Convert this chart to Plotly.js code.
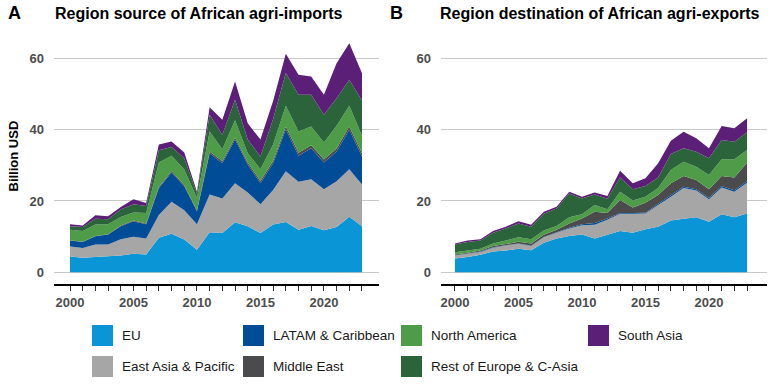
<!DOCTYPE html>
<html>
<head>
<meta charset="utf-8">
<script src="https://cdn.plot.ly/plotly-3.0.1.min.js"></script>
<style>html,body{margin:0;padding:0;background:#fff;}#chart{width:768px;height:385px;}</style>
</head>
<body>
<div id="chart"></div>
<script>
// ---- data (Billion USD) ----
const years = [2000,2001,2002,2003,2004,2005,2006,2007,2008,2009,2010,2011,2012,2013,2014,2015,2016,2017,2018,2019,2020,2021,2022,2023];
const seriesNames = ["EU","East Asia & Pacific","LATAM & Caribbean","Middle East","North America","Rest of Europe & C-Asia","South Asia"];
const seriesColors = ["#0A96D6","#A6A6A6","#004C97","#4B4B4D","#4E9C47","#2B643B","#5B1F77"];

// Panel A: imports by source region
const importsEU    = [4.4,4.1,4.3,4.5,4.7,5.2,5.0,9.7,10.8,9.2,6.3,11.2,11.0,14.0,12.9,11.0,13.4,14.1,11.9,13.0,11.8,12.7,15.6,12.9];
const importsEAP   = [2.8,2.7,3.5,3.3,4.6,4.8,4.5,6.4,9.0,8.2,7.2,10.6,9.7,11.0,9.5,8.1,9.7,14.2,13.5,13.1,11.5,12.8,13.3,11.7];
const importsLATAM = [1.7,1.7,2.3,2.8,3.6,4.3,4.0,7.5,8.2,6.7,3.6,11.6,9.9,12.2,7.8,5.9,7.5,11.8,7.3,8.7,7.5,8.4,11.1,7.9];
const importsME    = [0.1,0.1,0.1,0.1,0.2,0.2,0.2,0.3,0.4,0.4,0.3,0.5,0.5,0.6,0.6,0.6,0.7,0.8,0.8,0.8,0.8,0.8,0.9,0.9];
const importsNA    = [2.9,3.0,3.2,2.8,2.4,2.3,2.9,6.9,4.3,4.3,3.4,5.6,3.4,4.8,2.6,3.3,4.5,5.8,6.0,5.3,4.8,6.4,5.8,4.9];
const importsROE   = [1.0,1.1,1.6,1.4,2.1,2.3,2.0,3.4,2.4,3.2,1.2,4.7,4.0,5.8,3.8,3.6,7.2,9.2,10.3,8.9,7.8,7.7,7.3,9.9];
const importsSA    = [0.6,0.4,1.0,0.8,0.7,1.4,0.8,1.6,1.6,1.6,0.6,2.1,4.3,5.1,4.6,4.7,5.0,5.4,5.6,5.1,5.6,9.8,10.2,7.6];

// Panel B: exports by destination region
const exportsEU    = [3.9,4.3,4.9,5.8,6.1,6.6,6.2,8.3,9.5,10.2,10.6,9.5,10.5,11.6,11.1,12.1,12.8,14.5,15.0,15.4,14.2,16.3,15.4,16.5];
const exportsEAP   = [0.8,0.9,0.8,1.1,1.4,1.4,1.2,1.5,1.6,2.1,2.6,3.8,4.2,4.8,5.3,4.4,6.1,6.7,8.6,7.5,6.3,7.5,7.2,8.6];
const exportsLATAM = [0.1,0.1,0.1,0.1,0.1,0.1,0.1,0.1,0.1,0.2,0.3,0.5,0.4,0.2,0.2,0.2,0.3,0.4,0.4,0.4,0.3,0.4,0.4,0.4];
const exportsME    = [0.2,0.2,0.3,0.4,0.3,0.5,0.6,0.6,0.7,1.2,1.6,3.2,1.5,3.7,1.6,2.8,2.5,3.4,3.0,2.6,2.5,2.8,3.6,5.2];
const exportsNA    = [0.6,0.6,0.5,0.7,1.0,1.2,1.2,1.2,1.1,1.7,1.2,1.9,1.1,2.3,1.9,1.7,1.9,3.7,4.0,3.7,4.0,4.7,5.1,3.6];
const exportsROE   = [2.2,2.4,2.3,3.0,3.4,3.9,3.5,4.7,4.9,6.7,4.4,2.9,2.9,4.0,3.2,3.0,3.0,4.5,3.8,4.2,4.7,5.4,4.9,5.0];
const exportsSA    = [0.3,0.4,0.4,0.5,0.5,0.6,0.5,0.6,0.5,0.5,0.5,0.6,0.8,1.9,1.7,2.2,4.0,3.7,4.6,3.8,2.8,3.9,3.8,3.9];

const yTicks = [0,20,40,60];
const xLabelYears = [2000,2005,2010,2015,2020];
const titleA = "Region source of African agri-imports";
const titleB = "Region destination of African agri-exports";
const yTitle = "Billion USD";

// ---- build ----
const W = 768, H = 385;
const px = v => v / W;
const py = v => 1 - v / H;
const FONT = "Liberation Sans, Arial, Helvetica, sans-serif";

const importsSeries = [importsEU, importsEAP, importsLATAM, importsME, importsNA, importsROE, importsSA];
const exportsSeries = [exportsEU, exportsEAP, exportsLATAM, exportsME, exportsNA, exportsROE, exportsSA];

const traces = [];
importsSeries.forEach((vals, k) => traces.push({
  x: years, y: vals, name: seriesNames[k], type: 'scatter', mode: 'none',
  stackgroup: 'imp', fillcolor: seriesColors[k], line: {width: 0},
  xaxis: 'x', yaxis: 'y', showlegend: false, hoverinfo: 'skip'
}));
exportsSeries.forEach((vals, k) => traces.push({
  x: years, y: vals, name: seriesNames[k], type: 'scatter', mode: 'none',
  stackgroup: 'exp', fillcolor: seriesColors[k], line: {width: 0},
  xaxis: 'x2', yaxis: 'y2', showlegend: false, hoverinfo: 'skip'
}));

const tickText = years.map(y => xLabelYears.includes(y) ? String(y) : '');
const tickFont = {family: FONT, size: 13, color: '#4D4D4D', weight: 'bold'};

function xAxis(domain, range, anchor) {
  return {
    domain: domain, range: range, anchor: anchor,
    tickmode: 'array', tickvals: years, ticktext: tickText,
    ticks: 'outside', ticklen: 5, tickwidth: 1, tickcolor: '#333333',
    showline: true, linecolor: '#000000', linewidth: 2,
    showgrid: false, zeroline: false, tickfont: tickFont, fixedrange: true
  };
}
function yAxis(anchor) {
  return {
    domain: [py(284), py(36)], range: [-3.28, 66.25], anchor: anchor,
    tickmode: 'array', tickvals: yTicks, ticktext: yTicks.map(String),
    ticks: '', showline: false, showgrid: true, gridcolor: '#C9C9C9', gridwidth: 1,
    zeroline: false, tickfont: tickFont, ticklabelstandoff: 9, fixedrange: true
  };
}

// legend built from series names/colours (column-major, 2 rows)
const legCols = [92, 243, 401, 588];
const legRows = [325, 356];
const shapes = [], annotations = [];
seriesNames.forEach((nm, k) => {
  const c = Math.floor(k / 2), r = k % 2;
  const x0 = legCols[c], y0 = legRows[r];
  shapes.push({type: 'rect', xref: 'paper', yref: 'paper',
    x0: px(x0), x1: px(x0 + 21), y0: py(y0 + 21), y1: py(y0),
    fillcolor: seriesColors[k], line: {width: 0}});
  annotations.push({xref: 'paper', yref: 'paper', x: px(x0 + 28), y: py(y0 + 10.5),
    xanchor: 'left', yanchor: 'middle', text: nm, showarrow: false,
    font: {family: FONT, size: 13.5, color: '#1A1A1A'}});
});

// panel titles and letters
annotations.push({xref:'paper', yref:'paper', x: px(6), y: py(13), xanchor:'left', yanchor:'middle',
  text: 'A', showarrow:false, font:{family:FONT, size:18, color:'#000', weight:'bold'}});
annotations.push({xref:'paper', yref:'paper', x: px(53), y: py(13.3), xanchor:'left', yanchor:'middle',
  text: titleA, showarrow:false, font:{family:FONT, size:16, color:'#000', weight:'bold'}});
annotations.push({xref:'paper', yref:'paper', x: px(388), y: py(13), xanchor:'left', yanchor:'middle',
  text: 'B', showarrow:false, font:{family:FONT, size:18, color:'#000', weight:'bold'}});
annotations.push({xref:'paper', yref:'paper', x: px(438), y: py(13.3), xanchor:'left', yanchor:'middle',
  text: titleB, showarrow:false, font:{family:FONT, size:16, color:'#000', weight:'bold'}});
annotations.push({xref:'paper', yref:'paper', x: px(12.5), y: py(156), xanchor:'center', yanchor:'middle',
  text: yTitle, textangle: -90, showarrow:false, font:{family:FONT, size:13, color:'#000', weight:'bold'}});

const layout = {
  width: W, height: H,
  margin: {l: 0, r: 0, t: 0, b: 0, pad: 0},
  paper_bgcolor: '#FFFFFF', plot_bgcolor: '#FFFFFF',
  showlegend: false,
  font: {family: FONT},
  xaxis: xAxis([px(54), px(379)], [1998.74, 2024.34], 'y'),
  yaxis: yAxis('x'),
  xaxis2: xAxis([px(441), px(767)], [1998.9, 2024.57], 'y2'),
  yaxis2: yAxis('x2'),
  shapes: shapes,
  annotations: annotations
};

Plotly.newPlot('chart', traces, layout, {displayModeBar: false, staticPlot: true});
</script>
</body>
</html>
